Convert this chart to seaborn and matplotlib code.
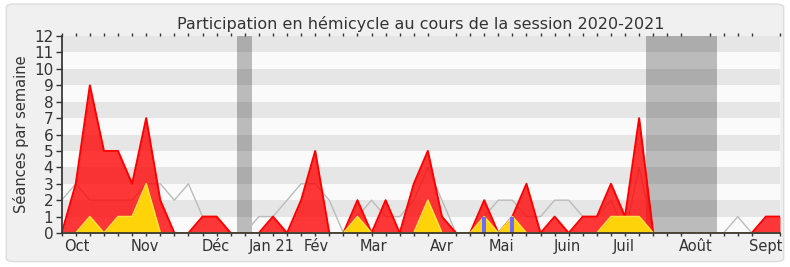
import numpy as np
import pandas as pd
import matplotlib
matplotlib.use("Agg")
import matplotlib.pyplot as plt
from matplotlib.patches import FancyBboxPatch
import seaborn as sns

# Weekly data, session 2020-2021 (52 weeks)
presences = [0, 3, 9, 5, 5, 3, 7, 2, 0, 0, 1, 1, 0, 0, 0, 1, 0, 2, 5, 0,
             0, 2, 0, 2, 0, 3, 5, 1, 0, 0, 2, 0, 1, 3, 0, 1, 0, 1, 1, 3,
             1, 7, 0, 0, 0, 0, 0, 0, 0, 0, 1, 1]
interventions = [0, 0, 1, 0, 1, 1, 3, 0, 0, 0, 0, 0, 0, 0, 0, 0, 0, 0, 0, 0,
                 0, 1, 0, 0, 0, 0, 2, 0, 0, 0, 1, 0, 1, 0, 0, 0, 0, 0, 0, 1,
                 1, 1, 0, 0, 0, 0, 0, 0, 0, 0, 0, 0]
questions = [0] * 30 + [1, 0, 1] + [0] * 19
mediane = [2, 3, 2, 2, 2, 2, 3, 3, 2, 3, 1, 1, 0, 0, 1, 1, 2, 3, 3, 2,
           0, 1, 2, 1, 1, 2, 4, 2, 0, 0, 1, 2, 2, 1, 1, 2, 2, 1, 1, 2,
           0, 4, 0, 0, 0, 0, 0, 0, 1, 0, 0, 0]
vacances = [(12.45, 13.5), (41.5, 46.5)]
mois_labels = ["Oct", "Nov", "Déc", "Jan 21", "Fév", "Mar", "Avr", "Mai",
               "Juin", "Juil", "Août", "Sept"]
mois_pos = [1.1, 5.9, 10.95, 14.9, 18.1, 22.1, 27.0, 31.2, 35.9, 39.9, 45.0, 50.0]

semaines = np.arange(len(presences))
df = pd.DataFrame({"semaine": semaines, "presences": presences,
                   "interventions": interventions, "questions": questions,
                   "mediane": mediane})

sns.set_theme(style="white")
plt.rcParams["font.family"] = ["DejaVu Sans"]
txt = "#333333"

fig = plt.figure(figsize=(7.9, 2.67), dpi=100)
fig.patch.set_facecolor("white")
fig.patches.append(FancyBboxPatch((0.008, 0.02), 0.984, 0.965,
                                  boxstyle="round,pad=0,rounding_size=0.012",
                                  transform=fig.transFigure, facecolor="#F0F0F0",
                                  edgecolor="#DCDCDC", linewidth=1, zorder=-10))
ax = fig.add_axes([0.0781, 0.1273, 0.9092, 0.7377])
ax.set_facecolor("#FAFAFA")

for k in range(1, 12, 2):
    ax.axhspan(k, k + 1, color="#E6E6E6", lw=0, zorder=0)
for a, b in vacances:
    ax.axvspan(a, b, color="black", alpha=0.25, lw=0, zorder=1)

sns.lineplot(data=df, x="semaine", y="mediane", ax=ax, color="#BBBBBB",
             lw=1, zorder=2, legend=False)
ax.fill_between(df["semaine"], df["presences"], color="#FF0000", alpha=0.78,
                lw=0, zorder=3)
ax.plot(df["semaine"], df["presences"], color="#FF0000", lw=1.4, zorder=4)
ax.fill_between(df["semaine"], df["interventions"], color="#FFD30A",
                lw=0, zorder=5)
ax.plot(df["semaine"], df["interventions"], color="#FFE23A", lw=1.2, zorder=6)
ax.bar(df["semaine"], df["questions"], width=0.3, color="#6B6BFF", zorder=7,
       lw=0)

ax.set_xlim(0, len(presences) - 1)
ax.set_ylim(0, 12)
ax.set_yticks(range(0, 13))
ax.set_yticklabels([str(v) for v in range(13)], fontsize=11, color=txt)
ax.set_xticks(mois_pos)
ax.set_xticklabels(mois_labels, fontsize=10.5, color=txt)
ax.set_xticks(semaines, minor=True)
ax.tick_params(axis="x", which="major", length=0, pad=4)
ax.tick_params(axis="x", which="minor", length=5, width=1, color="#333333",
               direction="out", bottom=True, top=True)
ax.tick_params(axis="y", length=4, width=1, color="#333333", direction="out",
               left=True, pad=2)
ax.tick_params(axis="x", which="minor", top=True, length=2)
for side in ["top", "right"]:
    ax.spines[side].set_visible(False)
for side in ["left", "bottom"]:
    ax.spines[side].set_color("#333333")
    ax.spines[side].set_zorder(10)
ax.set_xlabel("")
ax.set_ylabel("Séances par semaine", fontsize=10.5, color=txt, labelpad=4)
ax.set_title("Participation en hémicycle au cours de la session 2020-2021",
             fontsize=11.5, color=txt, pad=5)

fig.savefig("out.png", dpi=100, facecolor=fig.get_facecolor())
